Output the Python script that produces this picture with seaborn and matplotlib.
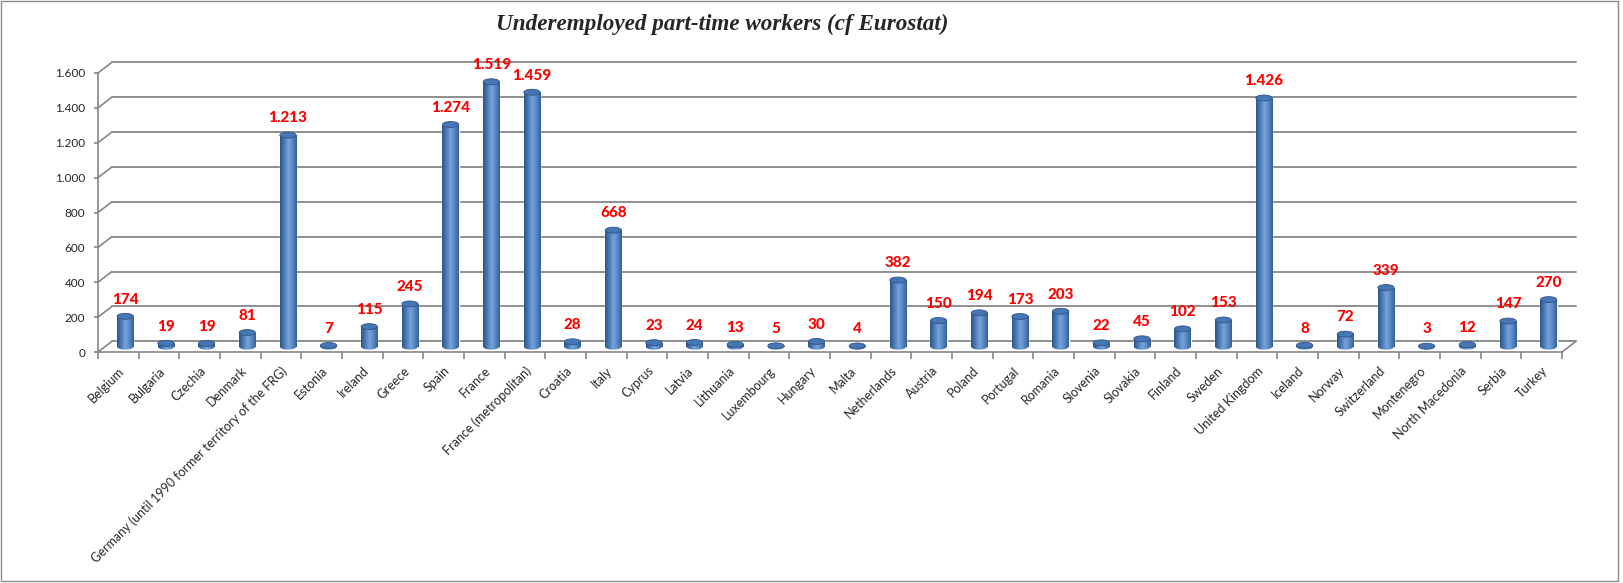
import numpy as np
import pandas as pd
import seaborn as sns
import matplotlib.pyplot as plt
from matplotlib.patches import Ellipse, Rectangle
from matplotlib.transforms import ScaledTranslation, blended_transform_factory
from matplotlib.colors import LinearSegmentedColormap
from matplotlib.ticker import FuncFormatter

# ------------------------------
# Data (thousands)
# ------------------------------
countries = ["Belgium", "Bulgaria", "Czechia", "Denmark",
             "Germany (until 1990 former territory of the FRG)", "Estonia",
             "Ireland", "Greece", "Spain", "France", "France (metropolitan)",
             "Croatia", "Italy", "Cyprus", "Latvia", "Lithuania", "Luxembourg",
             "Hungary", "Malta", "Netherlands", "Austria", "Poland", "Portugal",
             "Romania", "Slovenia", "Slovakia", "Finland", "Sweden",
             "United Kingdom", "Iceland", "Norway", "Switzerland", "Montenegro",
             "North Macedonia", "Serbia", "Turkey"]
values = [174, 19, 19, 81, 1213, 7, 115, 245, 1274, 1519, 1459, 28, 668, 23,
          24, 13, 5, 30, 4, 382, 150, 194, 173, 203, 22, 45, 102, 153, 1426,
          8, 72, 339, 3, 12, 147, 270]
yticks = [0, 200, 400, 600, 800, 1000, 1200, 1400, 1600]

df = pd.DataFrame({"country": countries, "value": values})
n = len(countries)


def eu_fmt(v):
    return f"{int(v):,}".replace(",", ".")


sns.set_theme(style="white")
plt.rcParams['font.family'] = ['Lato', 'DejaVu Sans']

fig = plt.figure(figsize=(16.24, 5.83), dpi=100)
ax = fig.add_axes([0.0603, 0.3962, 0.9015, 0.4786])

sns.barplot(data=df, x="country", y="value", color="#4F81BD", width=0.4,
            saturation=1, ax=ax, zorder=3)

grey = "#868686"
depth = ScaledTranslation(0.14, 0.107, fig.dpi_scale_trans)
half = ScaledTranslation(0.07, 0.0535, fig.dpi_scale_trans)

# back wall gridlines (pseudo 3D)
for v in yticks:
    ax.plot([-0.5, n - 0.5], [v, v], transform=ax.transData + depth,
            color=grey, lw=1.3, zorder=1, clip_on=False)
    ax.annotate("", xy=(0, v), xycoords=blended_transform_factory(ax.transAxes, ax.transData),
                xytext=(14, 10.7), textcoords="offset pixels",
                arrowprops=dict(arrowstyle="-", color=grey, lw=1.2, shrinkA=0, shrinkB=0))
ax.annotate("", xy=(n - 0.5, 0), xycoords="data", xytext=(14, 10.7),
            textcoords="offset pixels",
            arrowprops=dict(arrowstyle="-", color=grey, lw=1.2, shrinkA=0, shrinkB=0))

# cylinder look
cyl = LinearSegmentedColormap.from_list("cyl", ["#2F5587", "#4A7BB8", "#79A3D8", "#5688C5", "#365F92"])
grad = np.linspace(0, 1, 64).reshape(1, -1)
cap_h = 34
for p, v in zip(ax.patches[:n], values):
    tr = ax.transData + half
    p.set_transform(tr)
    x, w = p.get_x(), p.get_width()
    # rounded bottom
    bottom = Ellipse((x + w / 2, 0), w, cap_h, transform=tr, facecolor="none",
                     edgecolor="none")
    ax.add_patch(bottom)
    imb = ax.imshow(grad, cmap=cyl, extent=[x, x + w, -cap_h / 2, cap_h / 2],
                    aspect="auto", zorder=3.05, interpolation="bilinear")
    imb.set_transform(tr)
    imb.set_clip_path(bottom)
    # body
    im = ax.imshow(grad, cmap=cyl, extent=[x, x + w, 0, v], aspect="auto",
                   zorder=3.1, interpolation="bilinear")
    im.set_transform(tr)
    im.set_clip_path(p)
    # top cap
    ax.add_patch(Ellipse((x + w / 2, v), w, cap_h, transform=tr,
                         facecolor="#4677B4", edgecolor="#2F5587", lw=0.6, zorder=3.3))
    ax.annotate(eu_fmt(v), xy=(x + w / 2, v), xycoords=tr, xytext=(0, 7),
                textcoords="offset points", ha="center", va="bottom",
                color="#FF0000", fontweight="black", fontsize=11, zorder=5)

ax.set_xlim(-0.5, n - 0.5)
ax.set_ylim(0, 1600)
ax.set_yticks(yticks)
ax.yaxis.set_major_formatter(FuncFormatter(lambda v, p: eu_fmt(v)))
ax.set_xticks(range(n))
ax.set_xticklabels(countries, rotation=45, ha="right", rotation_mode="anchor", fontsize=9)
ax.set_xticks(np.arange(-0.5, n, 1), minor=True)
ax.tick_params(axis="x", which="major", length=0, pad=9)
ax.tick_params(axis="x", which="minor", length=5, color=grey, width=1.2, bottom=True, direction="out")
ax.tick_params(axis="y", length=3, color=grey, width=1.2, left=True, pad=6, labelsize=8.5)
ax.set_xlabel("")
ax.set_ylabel("")
ax.patch.set_visible(False)
for s in ["top", "right"]:
    ax.spines[s].set_visible(False)
for s in ["left", "bottom"]:
    ax.spines[s].set_color(grey)
    ax.spines[s].set_linewidth(1.2)

fig.text(722 / 1624, 1 - 24 / 583, "Underemployed part-time workers (cf Eurostat)",
         family=["Liberation Serif", "DejaVu Serif"], fontweight="bold", style="italic",
         fontsize=16.7, ha="center", va="center")

fig.add_artist(Rectangle((0.0008, 0.0034), 0.9958, 0.9949, transform=fig.transFigure,
                         fill=False, edgecolor="#8c8c8c", lw=1))

fig.savefig("out.png", dpi=100)
